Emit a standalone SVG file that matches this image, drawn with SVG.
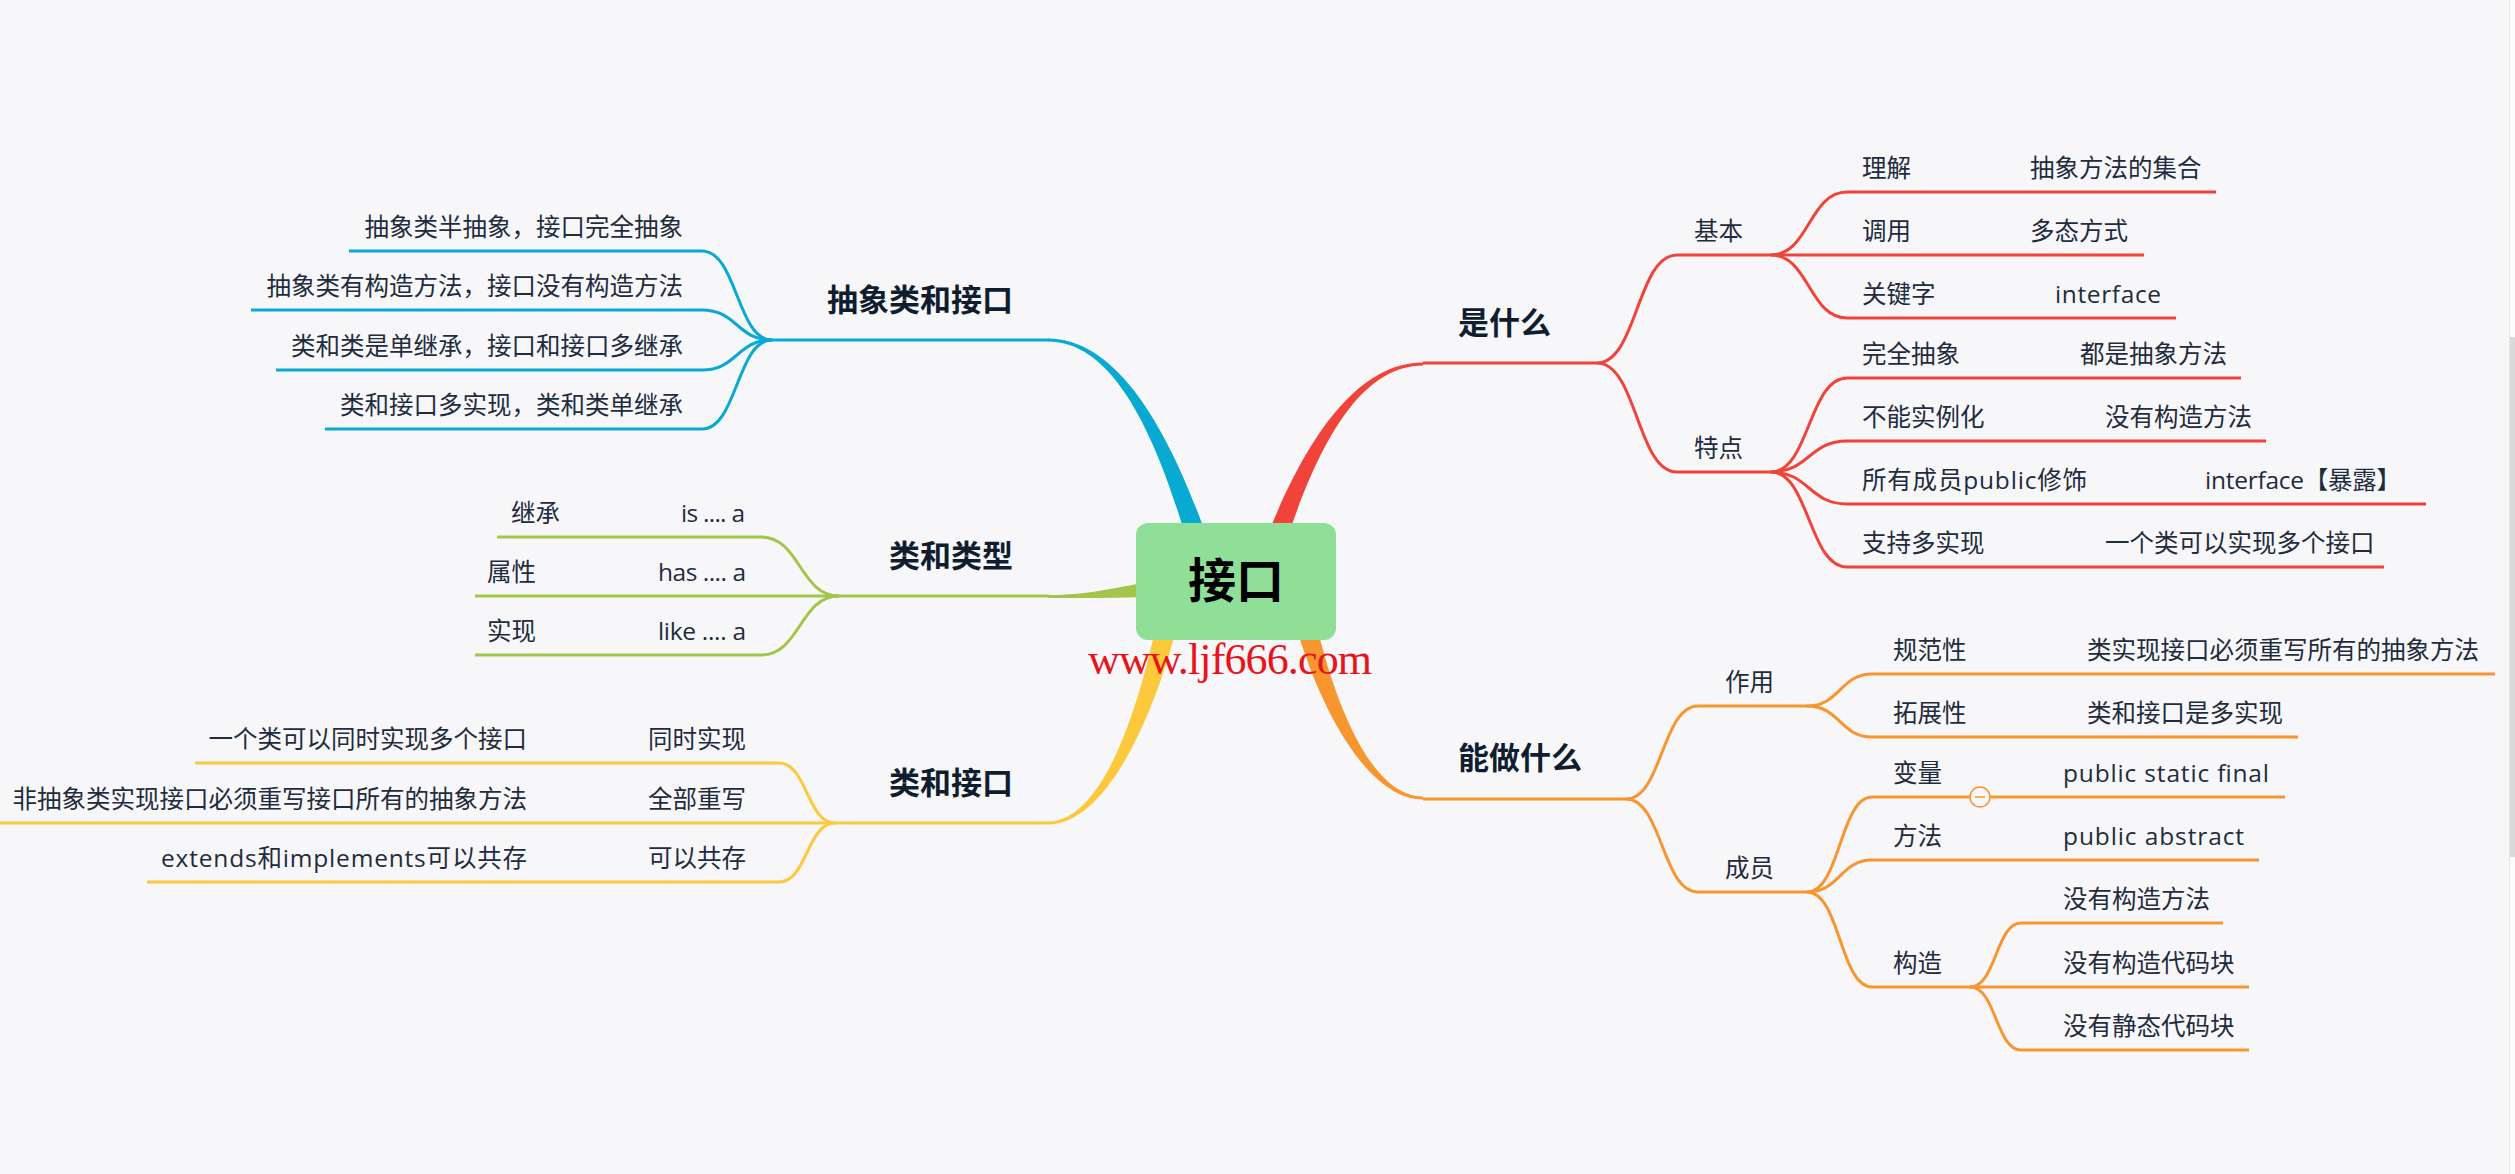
<svg xmlns="http://www.w3.org/2000/svg" width="2515" height="1174" viewBox="0 0 2515 1174">
<style>
.t{font-family:"Open Sans","Noto Sans CJK SC",sans-serif;font-size:24.5px;fill:#1f2c3d}
.h{font-family:"Noto Sans CJK SC","Open Sans",sans-serif;font-size:31px;font-weight:700;fill:#101d2f}
.e{text-anchor:end}
.l{fill:none;stroke-width:3}
.r{stroke:#f0443a}
.o{stroke:#f7962f}
.b{stroke:#08aad1}
.g{stroke:#a3c54a}
.y{stroke:#fdc93c}
</style>
<rect x="0" y="0" width="2515" height="1174" fill="#f7f7fa"/>
<g id="scrollbar">
<rect x="2509" y="0" width="6" height="1174" fill="#fbfbfb"/>
<line x1="2509.5" y1="0" x2="2509.5" y2="1174" stroke="#e6e6e6" stroke-width="1"/>
<rect x="2510" y="337" width="5" height="520" fill="#dadada"/>
</g>
<g id="connectors">
<path fill="#08aad1" d="M1048,338.5 C1127,338.5 1183,457 1221,580 L1199,584 C1167,463 1123,341.5 1048,341.5 Z"/>
<path fill="#f0443a" d="M1423,362.5 C1345,362.5 1289,469 1251,580 L1273,584 C1305,475 1349,365.5 1423,365.5 Z"/>
<path fill="#f7962f" d="M1423,796.5 C1367,796.5 1329,688 1311,600 L1289,600 C1311,692 1363,799.5 1423,799.5 Z"/>
<path fill="#fdc93c" d="M1048,821.5 C1105,821.5 1143,698 1161,600 L1183,600 C1161,704 1109,824.5 1048,824.5 Z"/>
<path fill="#a3c54a" d="M1048,595 C1090,595 1110,588 1150,582 L1150,597 C1110,598 1090,598 1048,598 Z"/>
<g class="l r">
<path d="M1597,363 C1637,363 1637,255 1677,255"/>
<path d="M1597,363 C1637,363 1637,472 1677,472"/>
<path d="M1771,255 C1809,255 1809,192 1847,192"/>
<path d="M1771,255 H1847"/>
<path d="M1771,255 C1809,255 1809,318 1847,318"/>
<path d="M1927,192 H2016"/>
<path d="M1927,255 H2016"/>
<path d="M1952,318 H2042"/>
<path d="M1771,472 C1809,472 1809,378 1847,378"/>
<path d="M1771,472 C1809,472 1809,441 1847,441"/>
<path d="M1771,472 C1809,472 1809,504 1847,504"/>
<path d="M1771,472 C1809,472 1809,567 1847,567"/>
<path d="M1974,378 H2066"/>
<path d="M2000,441 H2091"/>
<path d="M2102,504 H2190"/>
<path d="M2000,567 H2091"/>
</g>
<g class="l o">
<path d="M1626,799 C1662,799 1662,706 1698,706"/>
<path d="M1626,799 C1662,799 1662,892 1698,892"/>
<path d="M1807,706 C1840,706 1840,674 1872,674"/>
<path d="M1807,706 C1840,706 1840,737 1872,737"/>
<path d="M1983,674 H2073"/>
<path d="M1983,737 H2073"/>
<path d="M1807,892 C1840,892 1840,797 1872,797"/>
<path d="M1807,892 C1840,892 1840,860 1872,860"/>
<path d="M1807,892 C1840,892 1840,987 1872,987"/>
<path d="M1958,797 H2049"/>
<path d="M1958,860 H2049"/>
<path d="M1970,987 C1996,987 1996,923 2021,923 H2049"/>
<path d="M1970,987 H2049"/>
<path d="M1970,987 C1996,987 1996,1050 2021,1050 H2049"/>
</g>
<g class="l b">
<path d="M772,340 C737,340 737,251 702,251"/>
<path d="M772,340 C737,340 737,310 702,310"/>
<path d="M772,340 C737,340 737,370 702,370"/>
<path d="M772,340 C737,340 737,429 702,429"/>
</g>
<g class="l g">
<path d="M839,596 C800,596 800,537 761,537"/>
<path d="M839,596 H761"/>
<path d="M839,596 C800,596 800,655 761,655"/>
<path d="M666,537 H576"/>
<path d="M643,596 H553"/>
<path d="M643,655 H553"/>
</g>
<g class="l y">
<path d="M835,823 C807,823 807,763 779,763"/>
<path d="M835,823 H779"/>
<path d="M835,823 C807,823 807,882 779,882"/>
<path d="M634,763 H541"/>
<path d="M634,823 H541"/>
<path d="M634,882 H541"/>
</g>
</g>
<g id="root">
<rect x="1136" y="523" width="200" height="117" rx="12" fill="#8fdf99"/>
<text x="1236" y="598" text-anchor="middle" font-family="Noto Sans CJK SC, sans-serif" font-size="48" font-weight="700" fill="#000">接口</text>
</g>
<text id="watermark" x="1088" y="674" font-family="Liberation Serif, serif" font-size="44" fill="#e8141c" textLength="284">www.ljf666.com</text>

<g id="n-shishenme"><path class="l r" d="M1423,363 H1597"/><text class="h" x="1458" y="334">是什么</text></g>
<g id="n-jiben"><path class="l r" d="M1677,255 H1771"/><text class="t" x="1694" y="240">基本</text></g>
<g id="n-lijie"><path class="l r" d="M1847,192 H1927"/><text class="t" x="1862" y="177">理解</text></g>
<g id="n-lijie-1"><path class="l r" d="M2016,192 H2216"/><text class="t" x="2030" y="177">抽象方法的集合</text></g>
<g id="n-diaoyong"><path class="l r" d="M1847,255 H1927"/><text class="t" x="1862" y="240">调用</text></g>
<g id="n-diaoyong-1"><path class="l r" d="M2016,255 H2144"/><text class="t" x="2030" y="240">多态方式</text></g>
<g id="n-guanjianzi"><path class="l r" d="M1847,318 H1952"/><text class="t" x="1862" y="303">关键字</text></g>
<g id="n-guanjianzi-1"><path class="l r" d="M2042,318 H2176"/><text class="t" x="2055" y="303" textLength="106">interface</text></g>
<g id="n-tedian"><path class="l r" d="M1677,472 H1771"/><text class="t" x="1694" y="457">特点</text></g>
<g id="n-wanquan"><path class="l r" d="M1847,378 H1974"/><text class="t" x="1862" y="363">完全抽象</text></g>
<g id="n-wanquan-1"><path class="l r" d="M2066,378 H2241"/><text class="t" x="2080" y="363">都是抽象方法</text></g>
<g id="n-buneng"><path class="l r" d="M1847,441 H2000"/><text class="t" x="1862" y="426">不能实例化</text></g>
<g id="n-buneng-1"><path class="l r" d="M2091,441 H2266"/><text class="t" x="2105" y="426">没有构造方法</text></g>
<g id="n-suoyou"><path class="l r" d="M1847,504 H2102"/><text class="t" x="1862" y="489" textLength="225">所有成员public修饰</text></g>
<g id="n-suoyou-1"><path class="l r" d="M2190,504 H2426"/><text class="t" x="2205" y="489" textLength="196">interface【暴露】</text></g>
<g id="n-zhichi"><path class="l r" d="M1847,567 H2000"/><text class="t" x="1862" y="552">支持多实现</text></g>
<g id="n-zhichi-1"><path class="l r" d="M2091,567 H2384"/><text class="t" x="2105" y="552">一个类可以实现多个接口</text></g>

<g id="n-nengzuo"><path class="l o" d="M1423,799 H1626"/><text class="h" x="1458" y="769">能做什么</text></g>
<g id="n-zuoyong"><path class="l o" d="M1698,706 H1807"/><text class="t" x="1725" y="691">作用</text></g>
<g id="n-guifan"><path class="l o" d="M1872,674 H1983"/><text class="t" x="1893" y="659">规范性</text></g>
<g id="n-guifan-1"><path class="l o" d="M2073,674 H2495"/><text class="t" x="2087" y="659">类实现接口必须重写所有的抽象方法</text></g>
<g id="n-tuozhan"><path class="l o" d="M1872,737 H1983"/><text class="t" x="1893" y="722">拓展性</text></g>
<g id="n-tuozhan-1"><path class="l o" d="M2073,737 H2298"/><text class="t" x="2087" y="722">类和接口是多实现</text></g>
<g id="n-chengyuan"><path class="l o" d="M1698,892 H1807"/><text class="t" x="1725" y="877">成员</text></g>
<g id="n-bianliang"><path class="l o" d="M1872,797 H1958"/><text class="t" x="1893" y="782">变量</text>
<circle cx="1980" cy="797" r="10" fill="#f7f7fa" stroke="#f7962f" stroke-width="1.5"/><path d="M1975,797 H1985" stroke="#f7962f" stroke-width="1.5"/></g>
<g id="n-bianliang-1"><path class="l o" d="M2049,797 H2285"/><text class="t" x="2063" y="782" textLength="206">public static final</text></g>
<g id="n-fangfa"><path class="l o" d="M1872,860 H1958"/><text class="t" x="1893" y="845">方法</text></g>
<g id="n-fangfa-1"><path class="l o" d="M2049,860 H2259"/><text class="t" x="2063" y="845" textLength="181">public abstract</text></g>
<g id="n-gouzao"><path class="l o" d="M1872,987 H1970"/><text class="t" x="1893" y="972">构造</text></g>
<g id="n-gouzao-1"><path class="l o" d="M2049,923 H2223"/><text class="t" x="2063" y="908">没有构造方法</text></g>
<g id="n-gouzao-2"><path class="l o" d="M2049,987 H2249"/><text class="t" x="2063" y="972">没有构造代码块</text></g>
<g id="n-gouzao-3"><path class="l o" d="M2049,1050 H2249"/><text class="t" x="2063" y="1035">没有静态代码块</text></g>

<g id="n-chouxiang"><path class="l b" d="M772,340 H1049"/><text class="h e" x="1013" y="311">抽象类和接口</text></g>
<g id="n-cx-1"><path class="l b" d="M349,251 H702"/><text class="t e" x="683" y="236">抽象类半抽象，接口完全抽象</text></g>
<g id="n-cx-2"><path class="l b" d="M251,310 H702"/><text class="t e" x="683" y="295">抽象类有构造方法，接口没有构造方法</text></g>
<g id="n-cx-3"><path class="l b" d="M276,370 H702"/><text class="t e" x="683" y="355">类和类是单继承，接口和接口多继承</text></g>
<g id="n-cx-4"><path class="l b" d="M325,429 H702"/><text class="t e" x="683" y="414">类和接口多实现，类和类单继承</text></g>

<g id="n-leixing"><path class="l g" d="M839,596 H1049"/><text class="h e" x="1013" y="567">类和类型</text></g>
<g id="n-is"><path class="l g" d="M666,537 H761"/><text class="t e" x="745" y="522" textLength="64">is .... a</text></g>
<g id="n-jicheng"><path class="l g" d="M497,537 H576"/><text class="t" x="511" y="522">继承</text></g>
<g id="n-has"><path class="l g" d="M643,596 H761"/><text class="t e" x="746" y="581" textLength="88">has .... a</text></g>
<g id="n-shuxing"><path class="l g" d="M475,596 H553"/><text class="t" x="487" y="581">属性</text></g>
<g id="n-like"><path class="l g" d="M643,655 H761"/><text class="t e" x="746" y="640" textLength="88">like .... a</text></g>
<g id="n-shixian"><path class="l g" d="M475,655 H553"/><text class="t" x="487" y="640">实现</text></g>

<g id="n-leijiekou"><path class="l y" d="M835,823 H1049"/><text class="h e" x="1013" y="794">类和接口</text></g>
<g id="n-tongshi"><path class="l y" d="M634,763 H779"/><text class="t e" x="746" y="748">同时实现</text></g>
<g id="n-tongshi-1"><path class="l y" d="M195,763 H541"/><text class="t e" x="527" y="748">一个类可以同时实现多个接口</text></g>
<g id="n-quanbu"><path class="l y" d="M634,823 H779"/><text class="t e" x="746" y="808">全部重写</text></g>
<g id="n-quanbu-1"><path class="l y" d="M0,823 H541"/><text class="t e" x="527" y="808">非抽象类实现接口必须重写接口所有的抽象方法</text></g>
<g id="n-gongcun"><path class="l y" d="M634,882 H779"/><text class="t e" x="746" y="867">可以共存</text></g>
<g id="n-gongcun-1"><path class="l y" d="M147,882 H541"/><text class="t e" x="527" y="867" textLength="366">extends和implements可以共存</text></g>
</svg>
